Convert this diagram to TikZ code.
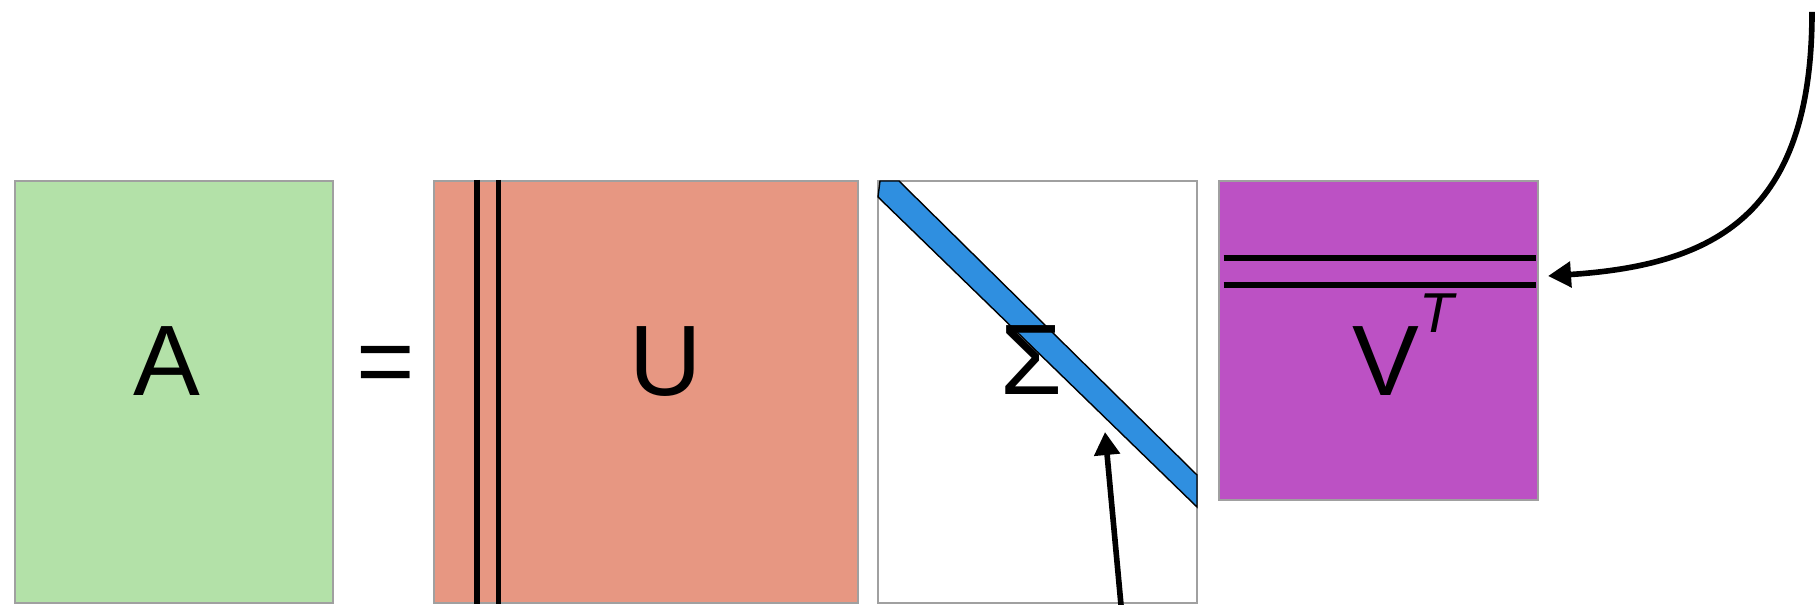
\documentclass[tikz,border=0pt]{standalone}
\usepackage{fontspec}
\setsansfont{Liberation Sans}
\usetikzlibrary{arrows.meta, positioning}
\definecolor{matgreen}{HTML}{B3E1A8}
\definecolor{matsalmon}{HTML}{E79782}
\definecolor{matblue}{HTML}{2F8FE0}
\definecolor{matpurple}{HTML}{BC51C4}
\definecolor{edgegray}{HTML}{A0A0A0}

\begin{document}
\begin{tikzpicture}[font=\sffamily\fontsize{57}{60}\selectfont,node distance=0.4cm,matbox/.style={draw=edgegray,line width=1.3pt,inner sep=0pt,minimum height=8.44cm},letter/.style={inner sep=0pt,anchor=base},rule/.style={line width=3.2pt},arrow/.style={line width=3.2pt,-{Triangle[length=0.46cm,width=0.5cm]}}]
\useasboundingbox (0,0) rectangle (36.3,12.1);
\node[matbox, fill=matgreen, minimum width=6.36cm] (A) at (3.48,4.26) {};
\node[matbox, fill=matsalmon, minimum width=8.48cm, right=1.98cm of A] (U) {};
\node[matbox, fill=white, minimum width=6.38cm, right=0.35cm of U] (S) {};
\node[matbox, fill=matpurple, minimum width=6.38cm, minimum height=6.38cm, right=0.39cm of S.north east, anchor=north west] (V) {};
% singular vectors
\draw[rule] ([xshift=0.88cm]U.north west) -- ([xshift=0.88cm]U.south west);
\draw[rule] ([xshift=1.31cm]U.north west) -- ([xshift=1.31cm]U.south west);
\draw[rule] ([xshift=0.12cm,yshift=-1.56cm]V.north west) -- ([xshift=-0.06cm,yshift=-1.56cm]V.north east);
\draw[rule] ([xshift=0.12cm,yshift=-2.1cm]V.north west) -- ([xshift=-0.06cm,yshift=-2.1cm]V.north east);
% diagonal of sigma
\draw[line width=0.8pt, fill=matblue] (17.56,8.16) -- (17.60,8.48) -- (17.98,8.48) -- (23.94,2.60) -- (23.94,1.96) -- cycle;
\node[letter] (a) at (3.34,4.18) {A};
\node[letter] (eq) at (7.71,4.18) {=};
\node[letter] (u) at (13.32,4.18) {U};
\node[letter] (sigma) at (20.63,4.2) {Σ};
\node[letter, anchor=base west] (vt) at (27.04,4.18) {V\raisebox{0.63em}{\fontsize{32}{34}\selectfont\itshape T}};
\coordinate (sigtail) at (22.42,0);
\coordinate (sigtip) at (22.10,3.46);
\coordinate (vtail) at (36.24,11.86);
\coordinate (vtip) at (30.96,6.58);
\draw[arrow] (sigtail) -- (sigtip);
\draw[arrow] (vtail) .. controls (36.24,7.8) and (34.30,6.8) .. (vtip);
\end{tikzpicture}
\end{document}
